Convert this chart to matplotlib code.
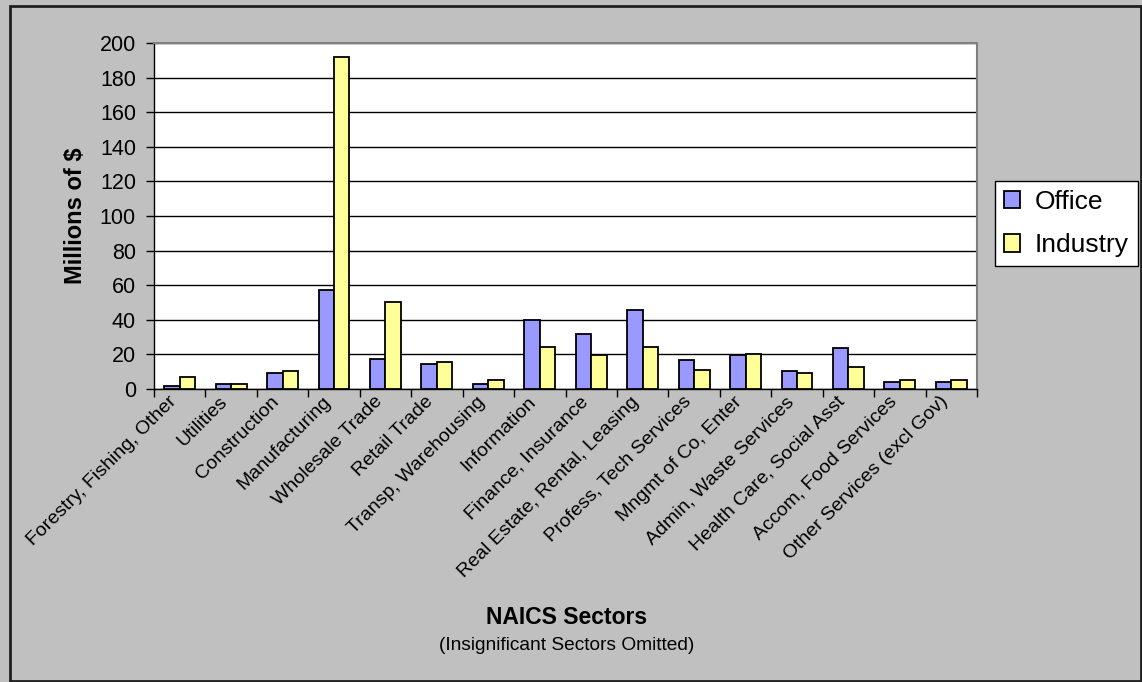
import matplotlib
matplotlib.use("Agg")
import matplotlib.pyplot as plt
from matplotlib.patches import Rectangle
import numpy as np

plt.rcParams['font.family'] = ['Liberation Sans', 'DejaVu Sans']

sectors = [
    "Forestry, Fishing, Other", "Utilities", "Construction", "Manufacturing",
    "Wholesale Trade", "Retail Trade", "Transp, Warehousing", "Information",
    "Finance, Insurance", "Real Estate, Rental, Leasing", "Profess, Tech Services",
    "Mngmt of Co, Enter", "Admin, Waste Services", "Health Care, Social Asst",
    "Accom, Food Services", "Other Services (excl Gov)",
]
office = [2, 3, 9, 57, 17.5, 14.5, 3, 40, 32, 45.5, 16.5, 19.5, 10.5, 23.5, 4, 4]
industry = [7, 3, 10.5, 192, 50.5, 15.5, 5, 24.5, 19.5, 24.5, 11, 20.5, 9, 13, 5, 5]
yticks = list(range(0, 201, 20))

W, H = 1142, 682
fig = plt.figure(figsize=(W / 100, H / 100), dpi=100)
fig.patch.set_facecolor("#C0C0C0")

# outer chart frame
fig.patches.append(Rectangle((10 / W, 1 / H), (W - 11) / W, (H - 7) / H,
                             transform=fig.transFigure, fill=False,
                             edgecolor="#202020", linewidth=2))

ax = fig.add_axes([154 / W, 1 - 389 / H, (977 - 154) / W, (389 - 43) / H])
ax.set_facecolor("white")

x = np.arange(len(sectors))
bw = 0.3
ax.bar(x - bw / 2, office, width=bw, color="#9999FF", edgecolor="black",
       linewidth=1.3, label="Office", zorder=3)
ax.bar(x + bw / 2, industry, width=bw, color="#FFFF99", edgecolor="black",
       linewidth=1.3, label="Industry", zorder=3)

ax.set_xlim(-0.5, len(sectors) - 0.5)
ax.set_ylim(0, 200)
ax.set_yticks(yticks)
ax.set_yticklabels([str(v) for v in yticks], fontsize=15.5)
ax.yaxis.grid(True, color="black", linewidth=1)
ax.set_axisbelow(True)

# category ticks sit between groups, labels at group centres
ax.set_xticks(np.arange(-0.5, len(sectors) + 0.5, 1.0))
ax.set_xticklabels([])
ax.set_xticks(x, minor=True)
ax.set_xticklabels(sectors, minor=True, rotation=45, ha="right", va="top",
                   fontsize=14)
ax.tick_params(axis="x", which="minor", length=0, pad=3)
ax.tick_params(axis="x", which="major", length=6, width=1, direction="out")
ax.tick_params(axis="y", length=6, width=1, direction="out", pad=7)

for side in ("top", "right"):
    ax.spines[side].set_color("#808080")
    ax.spines[side].set_linewidth(1.5)
for side in ("left", "bottom"):
    ax.spines[side].set_color("black")
    ax.spines[side].set_linewidth(1)

ax.set_ylabel("Millions of $", fontsize=17, fontweight="bold")
ax.yaxis.set_label_coords(-0.0814, 0.5)

fig.text(567 / W, 1 - 617 / H, "NAICS Sectors", ha="center", va="center",
         fontsize=16.5, fontweight="bold")
fig.text(567 / W, 1 - 646 / H, "(Insignificant Sectors Omitted)",
         ha="center", va="center", fontsize=13.8)

leg = fig.legend(loc="upper left", bbox_to_anchor=(995 / W, 1 - 181 / H),
                 fontsize=19, frameon=True, fancybox=False, framealpha=1,
                 edgecolor="black", handlelength=0.63, handleheight=0.63,
                 handletextpad=0.55, borderpad=0.33, labelspacing=0.74,
                 borderaxespad=0)
leg.get_frame().set_linewidth(1)

fig.savefig("out.png", dpi=100, facecolor=fig.get_facecolor())
